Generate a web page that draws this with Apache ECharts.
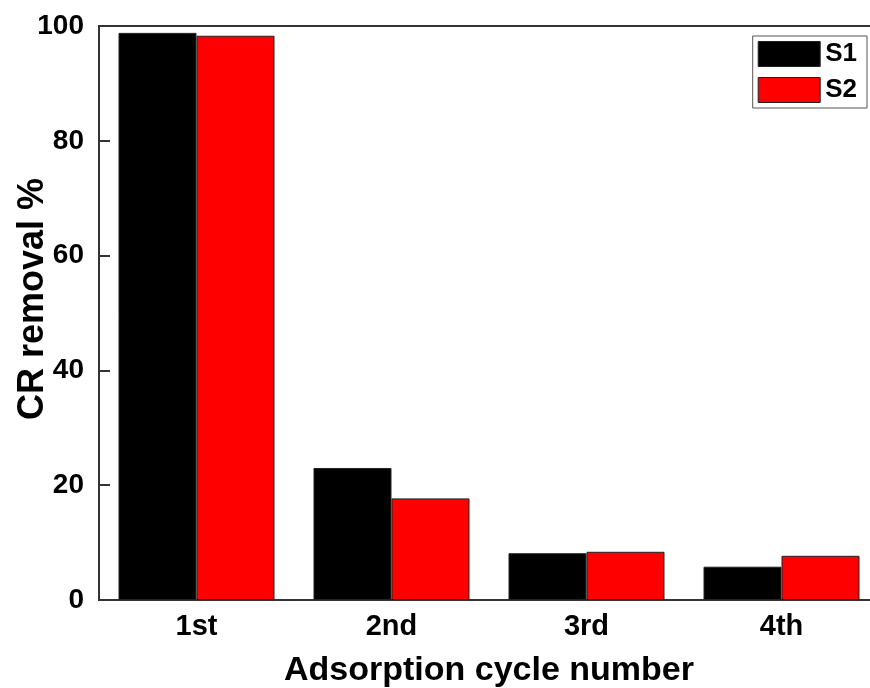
<!DOCTYPE html>
<html>
<head>
<meta charset="utf-8">
<script src="https://cdn.jsdelivr.net/npm/echarts@6/dist/echarts.min.js"></script>
<style>html,body{margin:0;padding:0;background:#fff}#c{width:870px;height:688px}</style>
</head>
<body>
<div id="c"></div>
<script>
var categories = ['1st', '2nd', '3rd', '4th'];
var s1Values = [98.8, 23.0, 8.15, 5.8];
var s2Values = [98.3, 17.7, 8.4, 7.7];
var yTicks = [0, 20, 40, 60, 80, 100];

var chart = echarts.init(document.getElementById('c'));
var font = '"Liberation Sans", Arial, sans-serif';
chart.setOption({
  animation: false,
  backgroundColor: '#fff',
  grid: {left: 99, top: 26, width: 780, height: 574, show: true, borderColor: '#333', borderWidth: 2,
    backgroundColor: 'transparent', containLabel: false, outerBoundsMode: 'none'},
  legend: {
    orient: 'vertical', right: 3, top: 36,
    itemWidth: 62, itemHeight: 25, itemGap: 10,
    padding: [5, 10, 5, 5],
    borderColor: '#555', borderWidth: 1,
    textStyle: {fontFamily: font, fontWeight: 'bold', fontSize: 26, color: '#000'},
    data: [
      {name: 'S1', icon: 'rect', itemStyle: {color: '#000', borderColor: '#222', borderWidth: 1}},
      {name: 'S2', icon: 'rect', itemStyle: {color: '#ff0000', borderColor: '#222', borderWidth: 1}}
    ]
  },
  xAxis: {
    type: 'category', data: categories,
    name: 'Adsorption cycle number', nameLocation: 'middle', nameGap: 54, nameMoveOverlap: false,
    nameTextStyle: {fontFamily: font, fontWeight: 'bold', fontSize: 34, color: '#000'},
    axisLine: {lineStyle: {color: '#333', width: 2}},
    axisTick: {show: false},
    axisLabel: {fontFamily: font, fontWeight: 'bold', fontSize: 29, color: '#000', margin: 12}
  },
  yAxis: {
    type: 'value', min: 0, max: 100, interval: 20,
    name: 'CR removal %', nameLocation: 'middle', nameGap: 48, nameMoveOverlap: false,
    nameTextStyle: {fontFamily: font, fontWeight: 'bold', fontSize: 36, color: '#000', padding: [0, 0, 0, 28]},
    axisLine: {show: true, lineStyle: {color: '#333', width: 2}},
    axisTick: {show: true, inside: true, length: 11, lineStyle: {color: '#333', width: 2}},
    splitLine: {show: false},
    axisLabel: {fontFamily: font, fontWeight: 'bold', fontSize: 28, color: '#000', margin: 15,
      formatter: function (v) { return yTicks.indexOf(v) >= 0 ? String(v) : ''; }}
  },
  series: [
    {name: 'S1', type: 'bar', data: s1Values, barWidth: 78, barGap: '0%',
      itemStyle: {color: '#000', borderColor: '#222', borderWidth: 1}},
    {name: 'S2', type: 'bar', data: s2Values, barWidth: 78, barGap: '0%',
      itemStyle: {color: '#ff0000', borderColor: '#222', borderWidth: 1}}
  ]
});
</script>
</body>
</html>
